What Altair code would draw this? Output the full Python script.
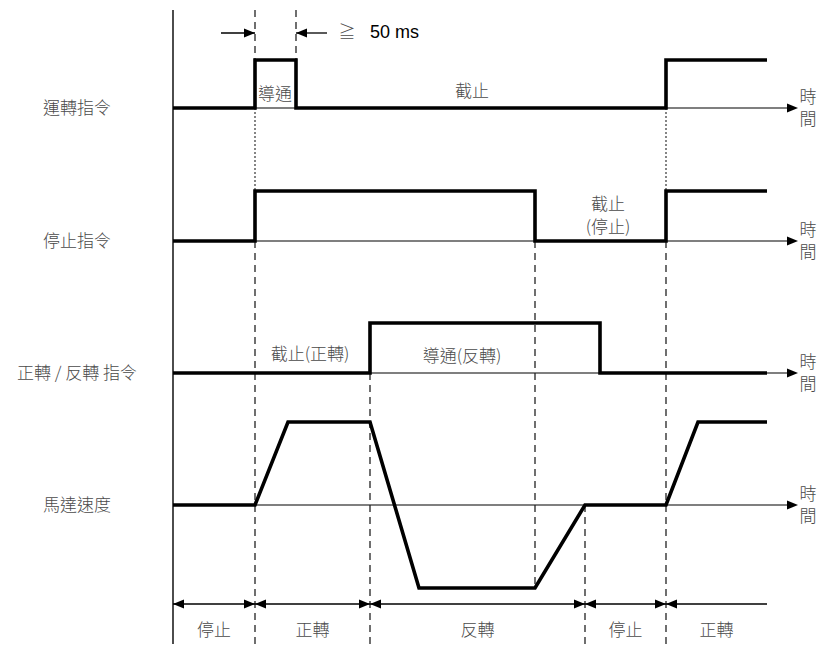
import altair as alt
import pandas as pd

# ---------------- data (time units along the diagram) ----------------
row_names = ["運轉指令", "停止指令", "正轉 / 反轉 指令", "馬達速度"]

run_t = [0, 82, 123, 493, 594]
run_lv = [0, 1, 0, 1, 1]
stop_t = [0, 82, 362, 493, 594]
stop_lv = [0, 1, 0, 1, 1]
dir_t = [0, 197, 427, 594]
dir_lv = [0, 1, 0, 0]
speed_t = [0, 82, 115, 197, 246, 362, 412, 493, 525, 594]
speed_lv = [0, 0, 1, 1, -1, -1, 0, 0, 1, 1]

phase_bounds = [0, 82, 197, 412, 493, 594]
phase_labels = ["停止", "正轉", "反轉", "停止", "正轉"]

state_text = ["導通", "截止", "截止", "(停止)", "截止(正轉)", "導通(反轉)"]
state_t = [102, 299, 435, 435, 137, 289]
state_row = [0, 0, 1, 1, 2, 2]
state_dy = [-13, -16, -36, -13, -18, -16]

pulse_t = [82, 123]
min_width_text = ["≧", "50 ms"]
time_label = "時\n間"

# ---------------- layout constants ----------------
ROW_BASE = [108, 241, 373, 505]
ROW_AMP = [48, 50, 50, 83]
TOP, BOTTOM = 10, 652
AXIS_END = 625
RULER_Y = 604
GAP_Y = 33
LABEL_T = -96
TIME_T = 635

xs = alt.Scale(domain=[-165, 644], nice=False, zero=False)
ys = alt.Scale(domain=[644, 8], nice=False, zero=False)
X = lambda f: alt.X(f, type="quantitative", scale=xs, axis=None)
Y = lambda f: alt.Y(f, type="quantitative", scale=ys, axis=None)


def sig_df(ts, lv, r, name):
    return pd.DataFrame({"t": ts, "y": [ROW_BASE[r] - v * ROW_AMP[r] for v in lv], "sig": name})


steps = pd.concat([sig_df(run_t, run_lv, 0, "run"),
                   sig_df(stop_t, stop_lv, 1, "stop"),
                   sig_df(dir_t, dir_lv, 2, "dir")])
speed = sig_df(speed_t, speed_lv, 3, "speed")

step_layer = alt.Chart(steps).mark_line(
    interpolate="step-after", color="black", strokeWidth=3.6, strokeJoin="miter", strokeCap="butt"
).encode(x=X("t"), y=Y("y"), detail="sig:N")
speed_layer = alt.Chart(speed).mark_line(
    color="black", strokeWidth=3.6, strokeJoin="miter", strokeCap="butt"
).encode(x=X("t"), y=Y("y"))

# thin time axes + vertical axis
haxes = pd.DataFrame({"t": [0] * 4, "t2": [AXIS_END - 6] * 4, "y": ROW_BASE})
haxis_layer = alt.Chart(haxes).mark_rule(color="black", strokeWidth=1.2).encode(
    x=X("t"), x2="t2:Q", y=Y("y"))
vaxis_layer = alt.Chart(pd.DataFrame({"t": [0], "y": [TOP], "y2": [BOTTOM]})).mark_rule(
    color="black", strokeWidth=1.4).encode(x=X("t"), y=Y("y"), y2="y2:Q")

# dashed / dotted guides
dashed = pd.DataFrame({
    "t": [82, 123, 82, 197, 362, 412, 493],
    "y": [TOP, TOP, ROW_BASE[1], ROW_BASE[2], ROW_BASE[1], ROW_BASE[3], ROW_BASE[1]],
    "y2": [ROW_BASE[0] - ROW_AMP[0], ROW_BASE[0] - ROW_AMP[0], BOTTOM, BOTTOM,
           ROW_BASE[3] + ROW_AMP[3], BOTTOM, BOTTOM],
})
dashed_layer = alt.Chart(dashed).mark_rule(color="#222", strokeWidth=1.3, strokeDash=[7, 5]).encode(
    x=X("t"), y=Y("y"), y2="y2:Q")
dotted = pd.DataFrame({"t": [82, 493], "y": [ROW_BASE[0]] * 2, "y2": [ROW_BASE[1] - ROW_AMP[1]] * 2})
dotted_layer = alt.Chart(dotted).mark_rule(color="#222", strokeWidth=1.1, strokeDash=[2, 2]).encode(
    x=X("t"), y=Y("y"), y2="y2:Q")

# horizontal measurement rules
hrules = pd.DataFrame({
    "t": [phase_bounds[0], pulse_t[0] - 34, pulse_t[1]],
    "t2": [phase_bounds[-1], pulse_t[0], pulse_t[1] + 31],
    "y": [RULER_Y, GAP_Y, GAP_Y],
})
hrule_layer = alt.Chart(hrules).mark_rule(color="black", strokeWidth=1.3).encode(
    x=X("t"), x2="t2:Q", y=Y("y"))

# arrowheads
PATH_R = "M0,0L-1,-0.4L-1,0.4Z"
PATH_L = "M0,0L1,-0.4L1,0.4Z"
heads = []
for b in phase_bounds[:-1]:
    heads.append({"t": b, "y": RULER_Y, "d": "l"})
for b in phase_bounds[1:-1]:
    heads.append({"t": b, "y": RULER_Y, "d": "r"})
heads.append({"t": pulse_t[0], "y": GAP_Y, "d": "r"})
heads.append({"t": pulse_t[1], "y": GAP_Y, "d": "l"})
for yb in ROW_BASE:
    heads.append({"t": AXIS_END, "y": yb, "d": "r"})
head_layer = alt.Chart(pd.DataFrame(heads)).mark_point(
    filled=True, opacity=1, color="black", size=484, strokeWidth=0
).encode(
    x=X("t"), y=Y("y"),
    shape=alt.Shape("d:N", scale=alt.Scale(domain=["r", "l"], range=[PATH_R, PATH_L]), legend=None),
)

# texts
texts = []
for i, n in enumerate(row_names):
    texts.append({"t": LABEL_T, "y": ROW_BASE[i] + 1, "text": n})
for s, t, r, dy in zip(state_text, state_t, state_row, state_dy):
    texts.append({"t": t, "y": ROW_BASE[r] + dy, "text": s})
for i, lab in enumerate(phase_labels):
    texts.append({"t": (phase_bounds[i] + phase_bounds[i + 1]) / 2, "y": 631, "text": lab})
texts.append({"t": 174, "y": GAP_Y, "text": min_width_text[0]})
text_layer = alt.Chart(pd.DataFrame(texts)).mark_text(
    font="Noto Sans CJK TC", fontSize=17, color="#4a4a4a", align="center", baseline="middle", fontWeight=300
).encode(x=X("t"), y=Y("y"), text="text:N")

time_df = pd.DataFrame({"t": [TIME_T] * 4, "y": [b - 10 for b in ROW_BASE], "text": [time_label] * 4})
time_layer = alt.Chart(time_df).mark_text(
    font="Noto Sans CJK TC", fontSize=17, color="#4a4a4a", align="center", baseline="middle",
    fontWeight=300, lineBreak="\n", lineHeight=22
).encode(x=X("t"), y=Y("y"), text="text:N")

ms_layer = alt.Chart(pd.DataFrame({"t": [197], "y": [GAP_Y], "text": [min_width_text[1]]})).mark_text(
    font="Liberation Sans", fontSize=18, color="black", align="left", baseline="middle"
).encode(x=X("t"), y=Y("y"), text="text:N")

chart = alt.layer(
    haxis_layer, vaxis_layer, dashed_layer, dotted_layer, hrule_layer,
    step_layer, speed_layer, head_layer, text_layer, time_layer, ms_layer
).properties(
    width=809, height=636, padding=0, autosize="none", background="white"
).configure_view(stroke=None)

chart.save("out.html", embed_options={"renderer": "svg", "actions": False})
